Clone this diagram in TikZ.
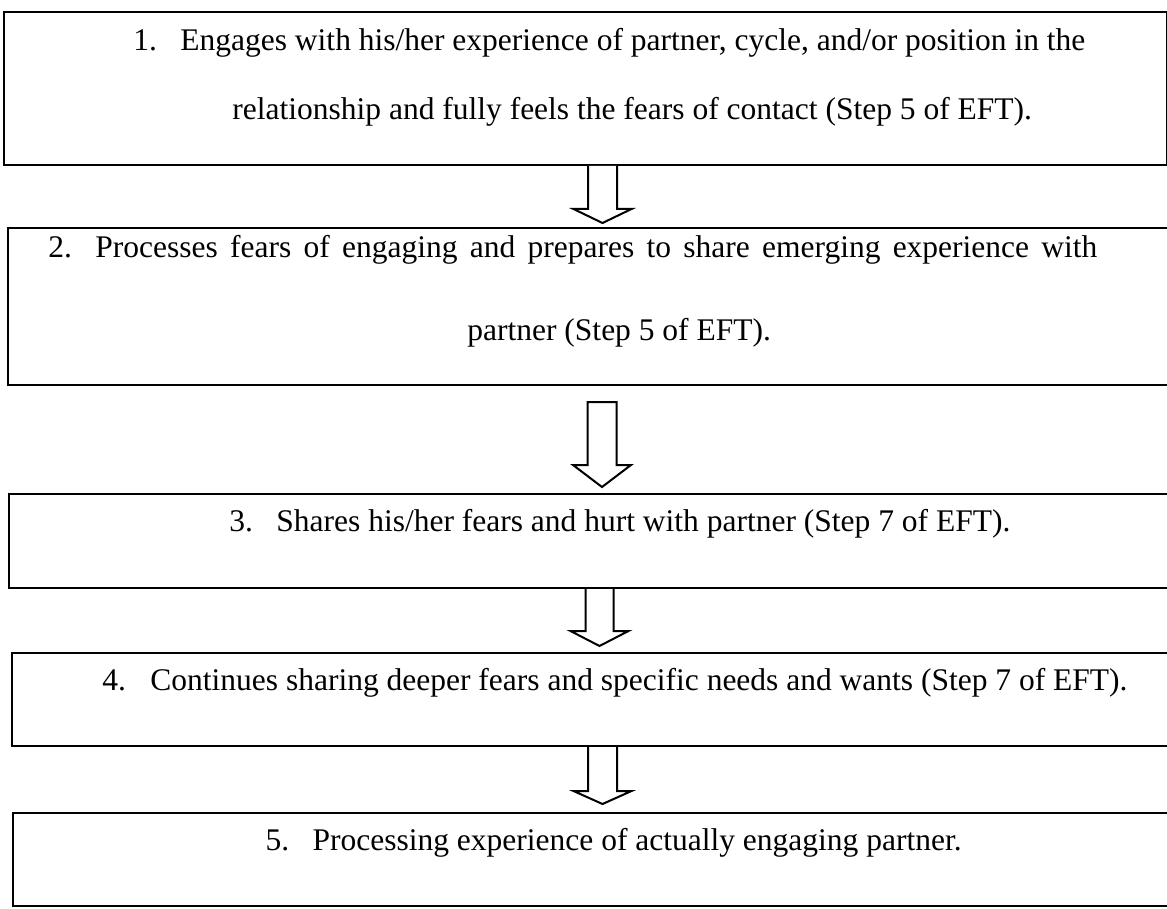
\documentclass[tikz,border=0pt]{standalone}
\usepackage{fontspec}
\setmainfont{Liberation Serif}
\usetikzlibrary{calc}
\begin{document}
\begin{tikzpicture}[x=0.5pt,y=-0.5pt,
  box/.style={draw=black,line width=1pt,rectangle,inner sep=0pt,anchor=north west},
  txt/.style={anchor=base west,inner sep=0pt,font=\fontsize{15.75pt}{19pt}\selectfont},
  barrow/.style={draw=black,line width=1pt,line join=miter,fill=white}]
\useasboundingbox (0,0) rectangle (1167,909);
% boxes
\node[box,minimum width=1163*0.5pt,minimum height=153*0.5pt] (b1) at (3,11) {};
\node[box,minimum width=1170*0.5pt,minimum height=157*0.5pt] (b2) at (7,227) {};
\node[box,minimum width=1170*0.5pt,minimum height=94*0.5pt] (b3) at (8,493) {};
\node[box,minimum width=1170*0.5pt,minimum height=93*0.5pt] (b4) at (11,652) {};
\node[box,minimum width=1170*0.5pt,minimum height=93*0.5pt] (b5) at (12,812) {};
% texts
\node[txt] (n1) at (133,51) {1.};
\node[txt] (t1a) at (180,51) {Engages with his/her experience of partner, cycle, and/or position in the};
\node[txt] (t1b) at (232,120) {relationship and fully feels the fears of contact (Step 5 of EFT).};
\node[txt] (n2) at (48,257) {2.};
\node[txt] (t2a) at (95,257) {\makebox[501pt][s]{Processes fears of engaging and prepares to share emerging experience with}};
\node[txt] (t2b) at (467,340) {partner (Step 5 of EFT).};
\node[txt] (n3) at (229,531) {3.};
\node[txt] (t3) at (276,531) {Shares his/her fears and hurt with partner (Step 7 of EFT).};
\node[txt] (n4) at (102,690) {4.};
\node[txt] (t4) at (150,690) {Continues sharing deeper fears and specific needs and wants (Step 7 of EFT).};
\node[txt,anchor=base east] (t5) at (962,850) {Processing experience of actually engaging partner.};
\node[txt,anchor=base west] (n5) at ([xshift=-47*0.5pt]t5.base west) {5.};
% block arrows: #1 centre x, #2 top node, #3 head base y, #4 tip y, #5 shaft half width, #6 head half width
\newcommand\blockarrow[6]{%
  \draw[barrow] ($(#2.south -| #1,0)+(-#5,0)$) -- (#1-#5,#3) -- (#1-#6,#3) -- (#1,#4)
     -- (#1+#6,#3) -- (#1+#5,#3) -- ($(#2.south -| #1,0)+(#5,0)$);}
\blockarrow{602.5}{b1}{209}{223}{14.5}{29}
\coordinate (a2top) at (602,402);
\draw[barrow] ($(a2top)+(-14.5,0)$) -- ++(0,63) -- ++(-14.5,0) -- (602,487) -- (631,465) -- (616.5,465) -- ++(0,-63) -- cycle;
\blockarrow{599.5}{b3}{631}{646}{14}{29}
\blockarrow{602.5}{b4}{791}{804}{14.5}{29}
\end{tikzpicture}
\end{document}
